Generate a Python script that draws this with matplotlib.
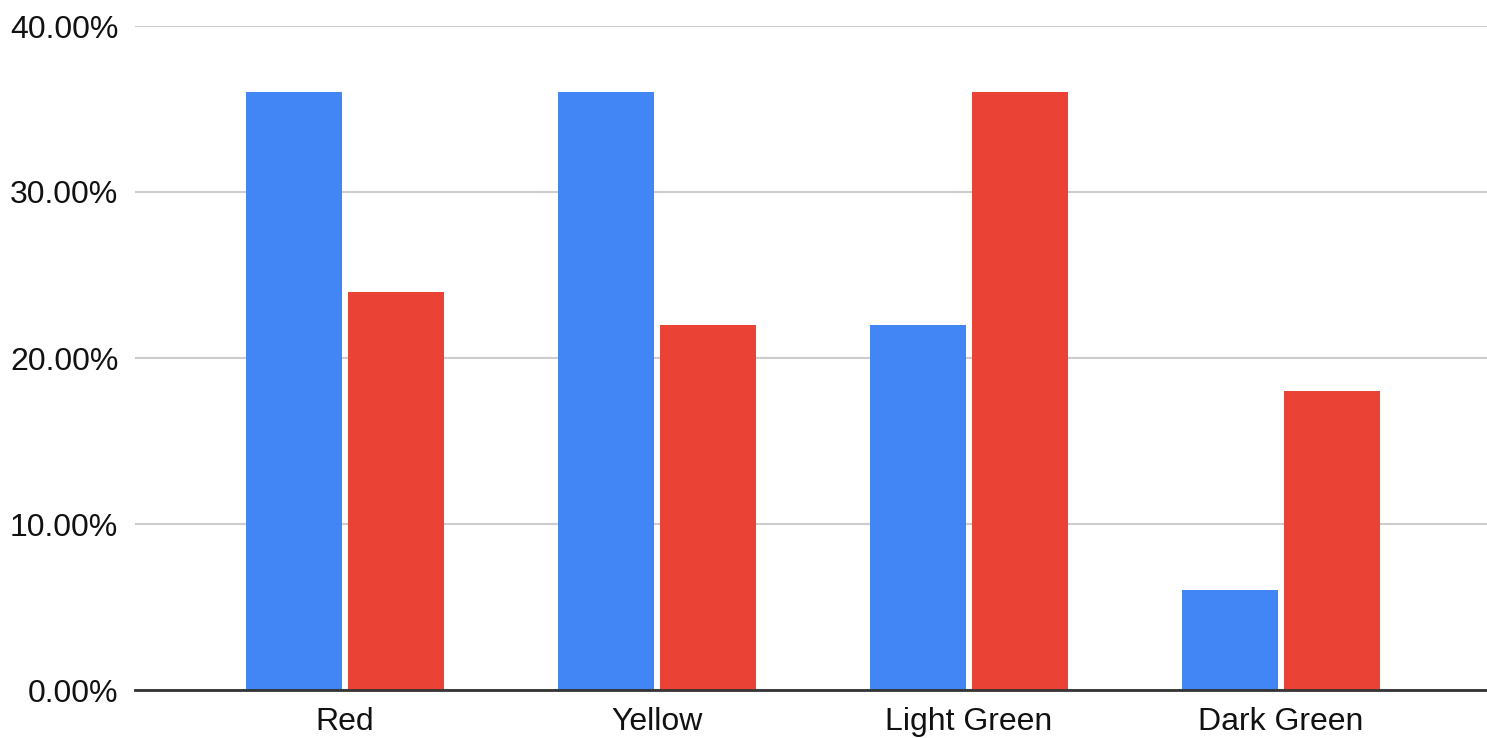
import matplotlib.pyplot as plt
import numpy as np
from matplotlib.ticker import FuncFormatter

categories = ["Red", "Yellow", "Light Green", "Dark Green"]
series_a = [36, 36, 22, 6]
series_b = [24, 22, 36, 18]
yticks = [0, 10, 20, 30, 40]

plt.rcParams['font.family'] = ['Liberation Sans', 'DejaVu Sans']

fig = plt.figure(figsize=(14.87, 7.38), dpi=100)
ax = fig.add_axes([135 / 1487, 1 - 690 / 738, 1 - 135 / 1487, (690 - 26) / 738])

x = np.arange(len(categories))
w = 0.308
gap = 0.02
ax.bar(x - w / 2 - gap / 2, series_a, width=w, color='#4285F4', zorder=3)
ax.bar(x + w / 2 + gap / 2, series_b, width=w, color='#EA4335', zorder=3)

ax.set_xlim(-0.673, 3.66)
ax.set_ylim(0, 40)
ax.set_yticks(yticks)
ax.yaxis.set_major_formatter(FuncFormatter(lambda v, p: f"{v:.2f}%"))
ax.set_xticks(x)
ax.set_xticklabels(categories)
ax.tick_params(axis='both', length=0, labelsize=23, labelcolor='#111111')
ax.tick_params(axis='y', pad=12)
ax.tick_params(axis='x', pad=12)

ax.grid(axis='y', color='#cccccc', linewidth=1.5, zorder=0)
for s in ['top', 'right', 'left']:
    ax.spines[s].set_visible(False)
ax.spines['bottom'].set_color('#333333')
ax.spines['bottom'].set_linewidth(2)
ax.spines['bottom'].set_zorder(4)

fig.savefig("out.png", dpi=100)
